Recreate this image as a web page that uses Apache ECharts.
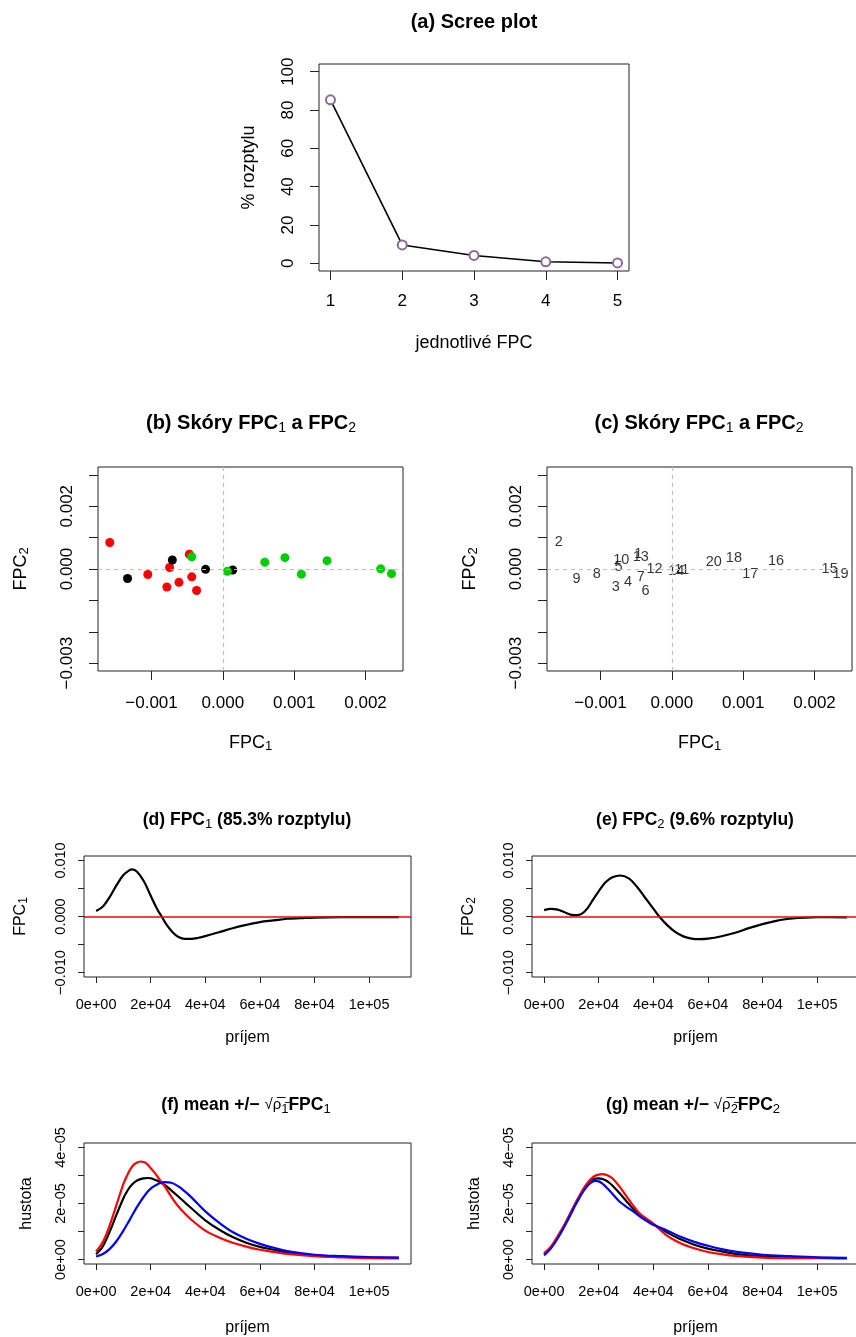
<!DOCTYPE html>
<html>
<head>
<meta charset="utf-8">
<script src="https://cdn.jsdelivr.net/npm/echarts@6/dist/echarts.min.js"></script>
<style>
html, body { margin: 0; padding: 0; background: #fff; }
#main { width: 856px; height: 1337px; }
</style>
</head>
<body>
<div id="main"></div>
<script>
// (a) scree plot
const fpcIndex = [1, 2, 3, 4, 5];
const varPercent = [85.3, 9.6, 4.1, 0.8, 0.2];

// (b),(c) skore FPC1 a FPC2
const scoreIds = ['1','2','3','4','5','6','7','8','9','10','11','12','13','14','15','16','17','18','19','20'];
const scoreFpc1 = [-0.00047, -0.001585, -0.000785, -0.000615, -0.000746, -0.000368, -0.000436, -0.001052, -0.001336, -0.000708,
                   0.000138, -0.000242, -0.000436, 0.000063, 0.002212, 0.001461, 0.0011, 0.00087, 0.002364, 0.000588];
const scoreFpc2 = [0.00047, 0.000845, -0.000575, -0.000425, 0.000048, -0.000686, -0.00025, -0.000175, -0.000304, 0.000287,
                   -0.000031, -0.00001, 0.000387, -0.000074, 0.000006, 0.000265, -0.000165, 0.000361, -0.000148, 0.000218];
const scoreGroup = [0,0,0,0,0,0,0,0, 1,1,1,1, 2,2,2,2,2,2,2,2];
const groupColors = ['#ff0000', '#000000', '#00cd00'];

// (d) FPC1
const fpc1X = [0, 2500, 5000, 7500, 10000, 12000, 13200, 15000, 17500, 20000, 22500, 24000, 26000, 28000, 30000,
               32500, 35000, 37500, 40000, 45000, 50000, 55000, 60000, 65000, 70000, 75000, 80000, 90000, 100000, 110900];
const fpc1Y = [0.0010, 0.0018, 0.0035, 0.0056, 0.0074, 0.0082, 0.0084, 0.0080, 0.0063, 0.0037, 0.0012, 0.0000, -0.0016, -0.0028, -0.0036,
               -0.0040, -0.0040, -0.0038, -0.0035, -0.0028, -0.0021, -0.0015, -0.0010, -0.0007, -0.0004, -0.0003, -0.0002, -0.00012, -0.0001, -0.0001];

// (e) FPC2
const fpc2X = [0, 2500, 5000, 7500, 10000, 12000, 14000, 16000, 18000, 20000, 22500, 25000, 28000, 31000, 34000, 37000,
               40000, 42000, 45000, 48000, 51000, 54000, 57000, 60000, 65000, 70000, 75000, 80000, 85000, 90000, 100000, 110900];
const fpc2Y = [0.00113, 0.00137, 0.00122, 0.00075, 0.00030, 0.00023, 0.00055, 0.00155, 0.00305, 0.00450, 0.00610, 0.00700, 0.00732, 0.00680, 0.00530, 0.00335,
               0.00140, 0.00010, -0.00150, -0.00275, -0.00355, -0.00395, -0.00405, -0.00396, -0.00352, -0.00290, -0.00208, -0.00135, -0.00078, -0.00040, -0.00013, -0.00015];

// (f),(g) hustoty: mean (cierna), mean + (cervena), mean - (modra)
const incomeX = [0, 2500, 5000, 7500, 10000, 11250, 12500, 13750, 15000, 16250, 17500, 18750, 20000, 21250, 22500, 23750, 25000,
                 27500, 30000, 32500, 35000, 40000, 45000, 50000, 55000, 60000, 65000, 70000, 80000, 90000, 100000, 110900];
const densMeanF = [0.19e-5, 0.48e-5, 1.00e-5, 1.61e-5, 2.19e-5, 2.42e-5, 2.60e-5, 2.73e-5, 2.82e-5, 2.87e-5, 2.90e-5, 2.91e-5, 2.90e-5, 2.86e-5, 2.81e-5, 2.74e-5, 2.67e-5,
                   2.47e-5, 2.26e-5, 2.04e-5, 1.82e-5, 1.40e-5, 1.07e-5, 0.80e-5, 0.60e-5, 0.45e-5, 0.35e-5, 0.26e-5, 0.14e-5, 0.10e-5, 0.07e-5, 0.06e-5];
const densPlusF = [0.28e-5, 0.63e-5, 1.23e-5, 1.96e-5, 2.70e-5, 2.98e-5, 3.22e-5, 3.38e-5, 3.46e-5, 3.50e-5, 3.48e-5, 3.40e-5, 3.26e-5, 3.12e-5, 2.96e-5, 2.78e-5, 2.63e-5,
                   2.25e-5, 1.91e-5, 1.64e-5, 1.41e-5, 1.03e-5, 0.79e-5, 0.60e-5, 0.46e-5, 0.35e-5, 0.27e-5, 0.20e-5, 0.12e-5, 0.08e-5, 0.05e-5, 0.04e-5];
const densMinusF = [0.11e-5, 0.20e-5, 0.38e-5, 0.66e-5, 1.03e-5, 1.24e-5, 1.45e-5, 1.67e-5, 1.88e-5, 2.07e-5, 2.25e-5, 2.41e-5, 2.53e-5, 2.62e-5, 2.69e-5, 2.74e-5, 2.76e-5,
                    2.74e-5, 2.62e-5, 2.43e-5, 2.21e-5, 1.72e-5, 1.32e-5, 0.98e-5, 0.74e-5, 0.56e-5, 0.42e-5, 0.30e-5, 0.17e-5, 0.12e-5, 0.09e-5, 0.07e-5];
const densMeanG = [0.20e-5, 0.44e-5, 0.80e-5, 1.22e-5, 1.71e-5, 1.94e-5, 2.16e-5, 2.38e-5, 2.58e-5, 2.73e-5, 2.84e-5, 2.89e-5, 2.90e-5, 2.88e-5, 2.83e-5, 2.75e-5, 2.64e-5,
                   2.38e-5, 2.10e-5, 1.82e-5, 1.58e-5, 1.26e-5, 0.97e-5, 0.72e-5, 0.53e-5, 0.39e-5, 0.29e-5, 0.20e-5, 0.11e-5, 0.07e-5, 0.06e-5, 0.05e-5];
const densPlusG = [0.23e-5, 0.46e-5, 0.84e-5, 1.26e-5, 1.73e-5, 1.97e-5, 2.20e-5, 2.42e-5, 2.62e-5, 2.78e-5, 2.91e-5, 2.99e-5, 3.03e-5, 3.05e-5, 3.03e-5, 2.98e-5, 2.90e-5,
                   2.62e-5, 2.28e-5, 1.94e-5, 1.64e-5, 1.28e-5, 0.85e-5, 0.58e-5, 0.40e-5, 0.27e-5, 0.19e-5, 0.13e-5, 0.07e-5, 0.05e-5, 0.05e-5, 0.04e-5];
const densMinusG = [0.15e-5, 0.40e-5, 0.76e-5, 1.19e-5, 1.66e-5, 1.91e-5, 2.13e-5, 2.34e-5, 2.52e-5, 2.67e-5, 2.77e-5, 2.81e-5, 2.79e-5, 2.72e-5, 2.61e-5, 2.48e-5, 2.35e-5,
                    2.08e-5, 1.89e-5, 1.73e-5, 1.54e-5, 1.24e-5, 1.04e-5, 0.81e-5, 0.63e-5, 0.49e-5, 0.37e-5, 0.28e-5, 0.17e-5, 0.12e-5, 0.08e-5, 0.06e-5];

// tick values
const screeYTicks = [0, 20, 40, 60, 80, 100];
const scoreXTicks = [-0.001, 0, 0.001, 0.002];
const scoreYTicks = [-0.003, -0.002, -0.001, 0, 0.001, 0.002, 0.003];
const scoreYLabels = [-0.003, 0, 0.002];
const incomeTicks = [0, 20000, 40000, 60000, 80000, 100000];
const fpcYTicks = [-0.01, -0.005, 0, 0.005, 0.01];
const fpcYLabels = [-0.01, 0, 0.01];
const densYTicks = [0, 1e-5, 2e-5, 3e-5, 4e-5];
const densYLabels = [0, 2e-5, 4e-5];

const FONT = '"Liberation Sans", Arial, Helvetica, sans-serif';

function fix3(v) {
    return (v < -1e-12 ? '\u2212' : '') + Math.abs(v).toFixed(3);
}
function sci(v) {
    if (Math.abs(v) < 1e-15) return '0e+00';
    const e = Math.floor(Math.log10(Math.abs(v)) + 1e-9);
    const m = Math.round(v / Math.pow(10, e));
    return m + 'e' + (e < 0 ? '\u2212' : '+') + String(Math.abs(e)).padStart(2, '0');
}
function zip(xs, ys) {
    return xs.map((x, i) => [x, ys[i]]);
}
function subRich(size) {
    return {
        s: { fontSize: size, fontFamily: FONT, color: '#000', fontWeight: 'normal', verticalAlign: 'bottom', lineHeight: Math.round(size * 1.05) }
    };
}

function axis(o) {
    return {
        type: 'value',
        gridIndex: o.grid,
        min: o.min,
        max: o.max,
        axisLine: { show: false, onZero: false },
        splitLine: { show: false },
        axisTick: { show: true, length: o.tickLen, customValues: o.ticks, lineStyle: { color: '#222', width: 1 } },
        axisLabel: {
            customValues: o.labels, formatter: o.fmt, margin: o.margin, rotate: o.rotate || 0,
            color: '#000', fontSize: o.fs, fontFamily: FONT
        },
        name: o.name,
        nameLocation: 'middle',
        nameGap: o.gap,
        nameTextStyle: { color: '#000', fontSize: o.nfs, fontFamily: FONT, lineHeight: o.nlh, rich: subRich(Math.round(o.nfs * 0.72)) }
    };
}

function title(text, x, y, size) {
    const r = subRich(Math.round(size * 0.72));
    r.r = { fontSize: Math.round(size * 0.85), fontFamily: FONT, fontWeight: 'normal', color: '#000', lineHeight: size + 4 };
    return {
        text: text, left: x, top: y, textAlign: 'center', textVerticalAlign: 'middle', padding: 0,
        textStyle: { fontSize: size, fontWeight: 'bold', fontFamily: FONT, color: '#000', lineHeight: size + 4, rich: r }
    };
}

const gridBox = { show: true, borderColor: '#222', borderWidth: 1, backgroundColor: 'transparent', outerBoundsMode: 'none', containLabel: false };
const grids = [
    Object.assign({ left: 319, top: 64, width: 310, height: 207 }, gridBox),
    Object.assign({ left: 98, top: 467, width: 305, height: 204 }, gridBox),
    Object.assign({ left: 547, top: 467, width: 305, height: 204 }, gridBox),
    Object.assign({ left: 84, top: 856, width: 327, height: 121 }, gridBox),
    Object.assign({ left: 532, top: 856, width: 327, height: 121 }, gridBox),
    Object.assign({ left: 84, top: 1143, width: 327, height: 121 }, gridBox),
    Object.assign({ left: 532, top: 1143, width: 327, height: 121 }, gridBox)
];

const big = { tickLen: 9, fs: 17, nfs: 18, nlh: 20 };
const small = { tickLen: 6, fs: 14.5, nfs: 16, nlh: 18 };
const incomeMin = -4436, incomeMax = 115336;

const xAxes = [
    axis(Object.assign({ grid: 0, min: 0.84, max: 5.16, ticks: fpcIndex, labels: fpcIndex, fmt: v => String(v), margin: 22, name: 'jednotlivé FPC', gap: 62 }, big)),
    axis(Object.assign({ grid: 1, min: -0.00175, max: 0.002525, ticks: scoreXTicks, labels: scoreXTicks, fmt: fix3, margin: 24, name: 'FPC{s|1}', gap: 62 }, big)),
    axis(Object.assign({ grid: 2, min: -0.00175, max: 0.002525, ticks: scoreXTicks, labels: scoreXTicks, fmt: fix3, margin: 24, name: 'FPC{s|1}', gap: 62 }, big)),
    axis(Object.assign({ grid: 3, min: incomeMin, max: incomeMax, ticks: incomeTicks, labels: incomeTicks, fmt: sci, margin: 20, name: 'príjem', gap: 52 }, small)),
    axis(Object.assign({ grid: 4, min: incomeMin, max: incomeMax, ticks: incomeTicks, labels: incomeTicks, fmt: sci, margin: 20, name: 'príjem', gap: 52 }, small)),
    axis(Object.assign({ grid: 5, min: incomeMin, max: incomeMax, ticks: incomeTicks, labels: incomeTicks, fmt: sci, margin: 20, name: 'príjem', gap: 55 }, small)),
    axis(Object.assign({ grid: 6, min: incomeMin, max: incomeMax, ticks: incomeTicks, labels: incomeTicks, fmt: sci, margin: 20, name: 'príjem', gap: 55 }, small))
];
const yAxes = [
    axis(Object.assign({ grid: 0, min: -4, max: 104, ticks: screeYTicks, labels: screeYTicks, fmt: v => String(v), margin: 22, rotate: 90, name: '% rozptylu', gap: 60 }, big)),
    axis(Object.assign({ grid: 1, min: -0.00325, max: 0.00325, ticks: scoreYTicks, labels: scoreYLabels, fmt: fix3, margin: 22, rotate: 90, name: 'FPC{s|2}', gap: 67 }, big)),
    axis(Object.assign({ grid: 2, min: -0.00325, max: 0.00325, ticks: scoreYTicks, labels: scoreYLabels, fmt: fix3, margin: 22, rotate: 90, name: 'FPC{s|2}', gap: 67 }, big)),
    axis(Object.assign({ grid: 3, min: -0.0108, max: 0.0108, ticks: fpcYTicks, labels: fpcYLabels, fmt: fix3, margin: 16, rotate: 90, name: 'FPC{s|1}', gap: 54 }, small)),
    axis(Object.assign({ grid: 4, min: -0.0108, max: 0.0108, ticks: fpcYTicks, labels: fpcYLabels, fmt: fix3, margin: 16, rotate: 90, name: 'FPC{s|2}', gap: 54 }, small)),
    axis(Object.assign({ grid: 5, min: -0.16e-5, max: 4.16e-5, ticks: densYTicks, labels: densYLabels, fmt: sci, margin: 16, rotate: 90, name: 'hustota', gap: 48 }, small)),
    axis(Object.assign({ grid: 6, min: -0.16e-5, max: 4.16e-5, ticks: densYTicks, labels: densYLabels, fmt: sci, margin: 16, rotate: 90, name: 'hustota', gap: 48 }, small))
];

const zeroDashed = {
    silent: true, symbol: ['none', 'none'], label: { show: false }, animation: false,
    lineStyle: { type: [4, 4], color: '#c0c0c0', width: 1.2 },
    data: [{ xAxis: 0 }, { yAxis: 0 }]
};
const zeroRed = {
    silent: true, symbol: ['none', 'none'], label: { show: false }, animation: false,
    lineStyle: { type: 'solid', color: '#ff0000', width: 1.5 },
    data: [{ yAxis: 0 }]
};

function curve(ax, data, color) {
    return {
        type: 'line', xAxisIndex: ax, yAxisIndex: ax, data: data, showSymbol: false, smooth: 0.35,
        lineStyle: { color: color, width: 2.2 }, silent: true
    };
}

const scorePoints = scoreFpc1.map((x, i) => ({ value: [x, scoreFpc2[i]], name: scoreIds[i] }));

const series = [
    {
        type: 'line', xAxisIndex: 0, yAxisIndex: 0, data: zip(fpcIndex, varPercent),
        symbol: 'emptyCircle', symbolSize: 9,
        itemStyle: { color: '#8a6a9a', borderWidth: 1 },
        lineStyle: { color: '#000', width: 1.6 }, silent: true
    },
    {
        type: 'scatter', xAxisIndex: 1, yAxisIndex: 1, data: scorePoints, symbolSize: 9,
        itemStyle: { color: p => groupColors[scoreGroup[p.dataIndex]], opacity: 1 },
        markLine: zeroDashed, silent: true
    },
    {
        type: 'scatter', xAxisIndex: 2, yAxisIndex: 2, data: scorePoints, symbolSize: 1,
        itemStyle: { color: 'rgba(0,0,0,0)' },
        label: { show: true, position: 'inside', formatter: p => p.name, color: '#000', fontSize: 14.5, fontFamily: FONT },
        markLine: zeroDashed, silent: true
    },
    Object.assign(curve(3, zip(fpc1X, fpc1Y), '#000'), { markLine: zeroRed }),
    Object.assign(curve(4, zip(fpc2X, fpc2Y), '#000'), { markLine: zeroRed }),
    curve(5, zip(incomeX, densMeanF), '#000'),
    curve(5, zip(incomeX, densPlusF), '#ff0000'),
    curve(5, zip(incomeX, densMinusF), '#0000ff'),
    curve(6, zip(incomeX, densMeanG), '#000'),
    curve(6, zip(incomeX, densPlusG), '#ff0000'),
    curve(6, zip(incomeX, densMinusG), '#0000ff')
];

const titles = [
    title('(a) Scree plot', 474, 22, 20),
    title('(b) Skóry FPC{s|1} a FPC{s|2}', 251, 423, 20),
    title('(c) Skóry FPC{s|1} a FPC{s|2}', 699, 423, 20),
    title('(d) FPC{s|1} (85.3% rozptylu)', 247, 820, 17.5),
    title('(e) FPC{s|2} (9.6% rozptylu)', 695, 820, 17.5),
    title('(f) mean +/\u2212 {r|\u221A\u03C1\u0305}{s|1\u0305}FPC{s|1}', 246, 1105, 17.5),
    title('(g) mean +/\u2212 {r|\u221A\u03C1\u0305}{s|2\u0305}FPC{s|2}', 693, 1105, 17.5)
];

const chart = echarts.init(document.getElementById('main'), null, { renderer: 'canvas' });
chart.setOption({
    backgroundColor: '#fff',
    animation: false,
    title: titles,
    grid: grids,
    xAxis: xAxes,
    yAxis: yAxes,
    series: series
});
</script>
</body>
</html>
